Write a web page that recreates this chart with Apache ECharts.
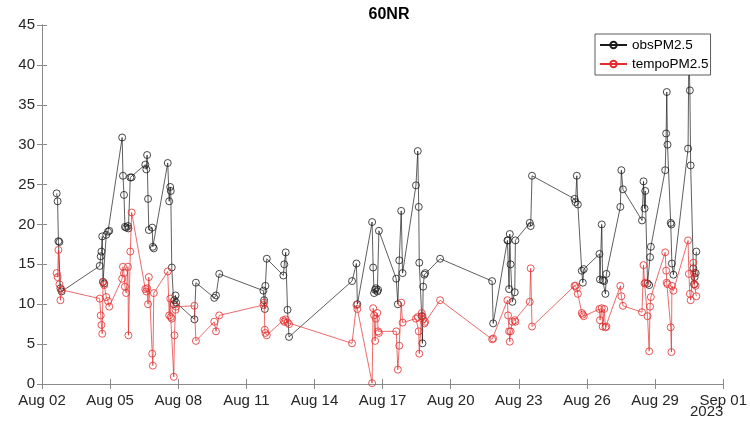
<!DOCTYPE html>
<html>
<head>
<meta charset="utf-8">
<script src="https://cdn.jsdelivr.net/npm/echarts@6/dist/echarts.min.js"></script>
<style>
html,body{margin:0;padding:0;background:#fff;}
#c{width:750px;height:430px;}
</style>
</head>
<body>
<div id="c"></div>
<script>
// Observation times (UTC), shared by both series
const times = [
"2023-08-02T15:30","2023-08-02T16:30","2023-08-02T17:20","2023-08-02T18:25","2023-08-02T19:30","2023-08-02T20:45",
"2023-08-04T13:00","2023-08-04T14:05","2023-08-04T14:50","2023-08-04T15:40","2023-08-04T16:30","2023-08-04T17:45","2023-08-04T19:55","2023-08-04T21:45","2023-08-04T23:05",
"2023-08-05T12:45","2023-08-05T13:35","2023-08-05T14:40","2023-08-05T15:40","2023-08-05T16:55","2023-08-05T18:50","2023-08-05T19:20","2023-08-05T21:20","2023-08-05T22:45",
"2023-08-06T13:10","2023-08-06T14:15","2023-08-06T15:05","2023-08-06T16:05","2023-08-06T16:55","2023-08-06T20:30","2023-08-06T21:10","2023-08-06T22:10",
"2023-08-07T12:55","2023-08-07T14:25","2023-08-07T15:30","2023-08-07T16:05","2023-08-07T17:10","2023-08-07T19:15","2023-08-07T20:00","2023-08-07T21:05","2023-08-07T21:45",
"2023-08-08T17:05","2023-08-08T18:40",
"2023-08-09T14:05","2023-08-09T15:55","2023-08-09T19:20",
"2023-08-11T18:00","2023-08-11T18:45","2023-08-11T19:30","2023-08-11T20:05","2023-08-11T21:35",
"2023-08-12T15:05","2023-08-12T16:05","2023-08-12T17:35","2023-08-12T19:30","2023-08-12T21:05",
"2023-08-15T15:40","2023-08-15T20:20","2023-08-15T21:20",
"2023-08-16T12:55","2023-08-16T14:00","2023-08-16T15:00","2023-08-16T16:05","2023-08-16T16:55","2023-08-16T18:25","2023-08-16T19:15","2023-08-16T20:05",
"2023-08-17T14:25","2023-08-17T16:05","2023-08-17T17:35","2023-08-17T19:40","2023-08-17T21:05",
"2023-08-18T11:15","2023-08-18T13:10","2023-08-18T14:10","2023-08-18T14:45","2023-08-18T17:20","2023-08-18T18:05","2023-08-18T18:50","2023-08-18T20:10","2023-08-18T20:55",
"2023-08-19T12:45",
"2023-08-21T19:45","2023-08-21T20:50",
"2023-08-22T11:55","2023-08-22T12:35","2023-08-22T13:40","2023-08-22T14:25","2023-08-22T15:15","2023-08-22T17:10","2023-08-22T19:40","2023-08-22T20:20",
"2023-08-23T11:30","2023-08-23T12:30","2023-08-23T13:55",
"2023-08-25T10:50","2023-08-25T11:55","2023-08-25T13:15","2023-08-25T14:20","2023-08-25T18:30","2023-08-25T19:35","2023-08-25T20:35",
"2023-08-26T13:10","2023-08-26T13:45","2023-08-26T15:35","2023-08-26T16:35","2023-08-26T18:10","2023-08-26T19:30","2023-08-26T20:30",
"2023-08-27T11:15","2023-08-27T12:20","2023-08-27T14:00",
"2023-08-28T10:10","2023-08-28T11:45","2023-08-28T12:50","2023-08-28T13:35","2023-08-28T16:00","2023-08-28T17:45","2023-08-28T18:40","2023-08-28T19:30",
"2023-08-29T10:40","2023-08-29T11:40","2023-08-29T12:20","2023-08-29T13:05","2023-08-29T16:30","2023-08-29T17:15","2023-08-29T17:45","2023-08-29T19:20",
"2023-08-30T10:50","2023-08-30T11:40","2023-08-30T12:45","2023-08-30T13:35","2023-08-30T16:25","2023-08-30T17:10","2023-08-30T17:45","2023-08-30T18:50","2023-08-30T19:35"
];

const obsPM25 = [
23.9,22.9,17.9,17.8,12.0,11.6,
14.8,16.0,16.6,18.5,12.8,12.6,18.7,19.1,19.2,
30.9,26.1,23.7,19.7,19.6,19.8,19.5,25.9,25.9,
27.5,26.9,28.7,23.2,19.3,19.6,17.2,17.0,
27.7,22.9,24.7,24.2,14.6,10.0,10.5,11.1,10.2,
8.1,12.7,
10.8,11.1,13.8,
11.7,10.5,9.4,12.3,15.7,
13.6,15.0,16.5,9.3,5.9,
12.9,15.1,10.0,
20.3,14.6,11.4,11.8,12.0,11.6,11.8,19.2,
13.2,10.0,15.5,21.7,13.9,
24.9,29.2,22.2,15.2,8.5,5.1,12.2,13.7,13.9,
15.7,
12.9,7.6,
18.0,18.0,11.9,18.8,15.0,10.3,11.5,18.0,
20.2,19.8,26.1,
23.2,22.8,26.1,22.5,14.2,12.7,14.4,
16.3,13.1,20.0,13.0,12.9,11.3,13.8,
22.2,26.8,24.4,
20.5,25.4,22.0,24.2,12.6,12.4,15.9,17.2,
26.8,31.4,36.6,30.0,20.2,20.0,15.1,13.7,
29.5,42.0,36.8,27.4,14.5,12.5,13.4,13.9,16.6
];

const tempoPM25 = [
13.9,13.4,16.8,12.5,10.5,11.8,
10.7,8.6,7.4,6.3,12.8,12.4,10.9,10.4,9.7,
13.2,14.7,13.9,12.2,11.4,14.7,6.1,16.6,21.5,
11.9,11.6,12.0,10.0,13.4,3.8,2.3,11.4,
14.1,8.6,10.7,8.4,8.2,0.9,6.1,9.3,9.7,
9.8,5.4,
7.8,6.6,8.6,
9.9,10.2,6.8,6.4,6.1,
8.0,7.8,8.1,7.7,7.5,
5.1,9.9,9.4,
0.1,9.5,8.6,5.4,8.2,8.9,6.6,6.4,
6.6,1.8,4.8,10.2,7.7,
8.2,8.4,6.6,3.8,8.9,8.5,8.1,7.6,7.8,
10.5,
5.6,5.7,
10.5,8.6,6.6,5.3,6.6,7.8,8.0,7.8,
10.3,14.5,7.2,
12.3,12.3,12.0,11.3,8.9,8.7,8.5,
9.4,8.0,9.5,7.2,9.4,7.1,7.2,
12.3,11.0,9.8,
9.0,14.9,12.6,12.7,8.5,4.1,9.7,10.9,
16.5,14.2,12.7,12.5,7.1,4.0,12.3,11.7,
18.0,13.8,11.3,10.5,15.2,13.9,12.5,12.3,11.0
];

const xTickLabels = ["Aug 02","Aug 05","Aug 08","Aug 11","Aug 14","Aug 17","Aug 20","Aug 23","Aug 26","Aug 29","Sep 01"];
const yearLabel = "2023";
const seriesNames = ["obsPM2.5","tempoPM2.5"];
const titleText = "60NR";

const DAY = 86400000;
const T0 = Date.UTC(2023, 7, 2);
function toDays(s){ return (Date.parse(s + ":00Z") - T0) / DAY; }

const obsData = times.map((t, i) => [toDays(t), obsPM25[i]]);
const tempoData = times.map((t, i) => [toDays(t), tempoPM25[i]]);

const FONT = "Liberation Sans, Arial, sans-serif";
const AX = "#8a8a8a";
const TXT = "#262626";

const chart = echarts.init(document.getElementById('c'), null, {renderer: 'canvas'});
const axisCommon = {
  axisLine: {show: true, lineStyle: {color: AX, width: 1}},
  axisTick: {show: true, inside: true, length: 5, lineStyle: {color: AX, width: 1}},
  splitLine: {show: false}
};
chart.setOption({
  animation: false,
  backgroundColor: '#fff',
  title: {
    text: titleText, left: 384, top: 2, textAlign: 'center',
    textStyle: {fontFamily: FONT, fontWeight: 'bold', fontSize: 16, color: '#000'}
  },
  grid: {left: 42, right: 24, top: 25, bottom: 46, containLabel: false},
  legend: {
    data: seriesNames,
    orient: 'vertical',
    left: 595, top: 34,
    zlevel: 1, z: 10,
    padding: [4, 2, 4, 4],
    itemGap: 5,
    itemWidth: 27, itemHeight: 8,
    backgroundColor: '#fff',
    borderColor: '#333', borderWidth: 0.8,
    textStyle: {fontFamily: FONT, fontSize: 13.5, color: '#000', padding: [0,0,0,0]}
  },
  xAxis: [
    Object.assign({
      type: 'value', min: 0, max: 30, interval: 3, position: 'bottom',
      axisLabel: {
        fontFamily: FONT, fontSize: 15, color: TXT, margin: 9,
        formatter: v => xTickLabels[Math.round(v / 3)] || ''
      }
    }, axisCommon),
    Object.assign({
      type: 'value', min: 0, max: 30, interval: 3, position: 'top',
      axisLabel: {show: false}
    }, axisCommon)
  ],
  yAxis: [
    Object.assign({
      type: 'value', min: 0, max: 45, interval: 5, position: 'left',
      axisLabel: {fontFamily: FONT, fontSize: 15, color: TXT, margin: 7}
    }, axisCommon),
    Object.assign({
      type: 'value', min: 0, max: 45, interval: 5, position: 'right',
      axisLabel: {show: false}
    }, axisCommon)
  ],
  graphic: [{
    type: 'text', left: 690, top: 404,
    style: {text: yearLabel, fontFamily: FONT, fontSize: 15, fill: TXT}
  }],
  series: [
    {
      name: seriesNames[0], type: 'line', data: obsData,
      xAxisIndex: 0, yAxisIndex: 0,
      symbol: 'circle', symbolSize: 7, showAllSymbol: true,
      lineStyle: {color: '#1a1a1a', width: 0.7},
      itemStyle: {color: 'rgba(0,0,0,0)', borderColor: '#1a1a1a', borderWidth: 0.8},
      z: 2
    },
    {
      name: seriesNames[1], type: 'line', data: tempoData,
      xAxisIndex: 0, yAxisIndex: 0,
      symbol: 'circle', symbolSize: 7, showAllSymbol: true,
      lineStyle: {color: '#e52b2b', width: 0.7},
      itemStyle: {color: 'rgba(0,0,0,0)', borderColor: '#e52b2b', borderWidth: 0.8},
      z: 3
    }
  ]
});
</script>
</body>
</html>
